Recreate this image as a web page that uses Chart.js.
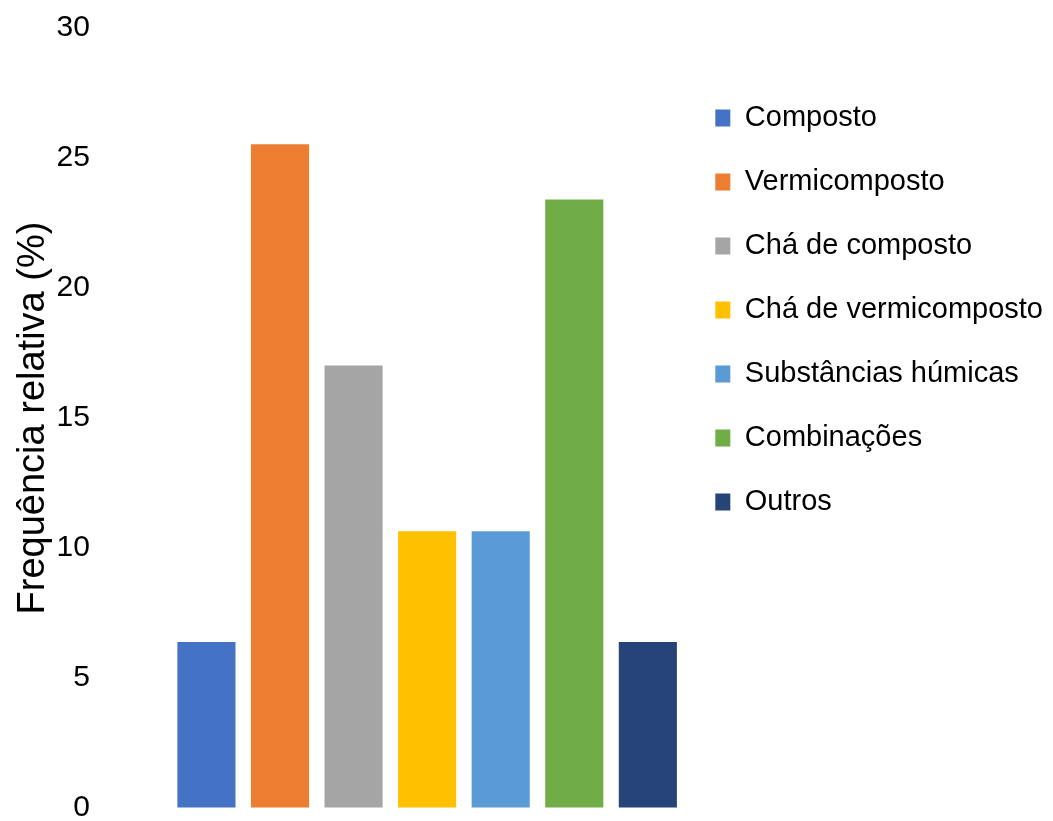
<!DOCTYPE html>
<html>
<head>
<meta charset="utf-8">
<script src="https://cdn.jsdelivr.net/npm/chart.js@4"></script>
<style>
    html, body { margin: 0; padding: 0; background: #fff; }
    #wrap { position: relative; width: 1053px; height: 821px; }
</style>
</head>
<body>
<div id="wrap"><canvas id="freq-chart"></canvas></div>
<script>
const CATEGORIES = [
    'Composto',
    'Vermicomposto',
    'Chá de composto',
    'Chá de vermicomposto',
    'Substâncias húmicas',
    'Combinações',
    'Outros',
];
const FREQ_PCT = [6.38, 25.53, 17.02, 10.64, 10.64, 23.40, 6.38];
const COLORS = ['#4472c4', '#ed7d31', '#a5a5a5', '#ffc000', '#5b9bd5', '#70ad47', '#264478'];
const Y_MIN = 0, Y_MAX = 30, Y_STEP = 5;
const Y_TITLE = 'Frequência relativa (%)';

const FONT = '"Liberation Sans", Arial, sans-serif';

const datasets = CATEGORIES.map((label, i) => ({
    label,
    data: [FREQ_PCT[i]],
    backgroundColor: COLORS[i],
    borderWidth: 0,
    categoryPercentage: 1.017,
    barPercentage: 0.79,
}));

const ctx = document.getElementById('freq-chart').getContext('2d');
new Chart(ctx, {
    type: 'bar',
    data: { labels: [''], datasets },
    options: {
        responsive: true,
        maintainAspectRatio: false,
        animation: false,
        layout: { padding: { top: 28, bottom: 13, left: 0, right: 0 } },
        plugins: {
            tooltip: { enabled: false },
            legend: {
                position: 'right',
                align: 'start',
                maxWidth: 420,
                // blank title only pushes the items down
                title: { display: true, text: ' ', font: { size: 10 }, padding: { top: 28.5, bottom: 0 } },
                labels: {
                    color: '#000',
                    font: { family: FONT, size: 29 },
                    boxWidth: 15,
                    boxHeight: 17,
                    padding: 35,
                },
            },
        },
        scales: {
            x: { display: false },
            y: {
                min: Y_MIN,
                max: Y_MAX,
                // invisible tick marks keep the labels away from the bars
                grid: {
                    display: true,
                    drawOnChartArea: false,
                    drawTicks: true,
                    tickLength: 84,
                    color: 'rgba(0,0,0,0)',
                },
                border: { display: false },
                ticks: {
                    stepSize: Y_STEP,
                    color: '#000',
                    padding: 0,
                    font: { family: FONT, size: 30, lineHeight: 0.8 },
                },
                title: {
                    display: true,
                    text: Y_TITLE,
                    color: '#000',
                    font: { family: FONT, size: 38 },
                    padding: { top: 11, bottom: 0 },
                },
            },
        },
    },
});
</script>
</body>
</html>
